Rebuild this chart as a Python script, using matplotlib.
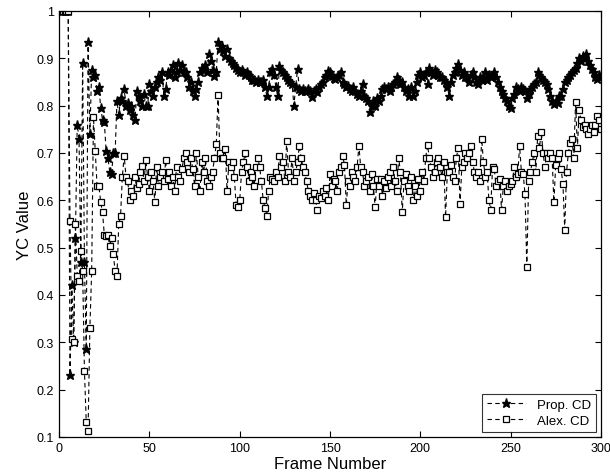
import matplotlib
matplotlib.use("Agg")

import numpy as np
import matplotlib.pyplot as plt

# ==========================================================
# DATA (one value per frame, frames 1..300)
# ==========================================================

prop_cd = [
    1.0, 1.0, 1.0, 1.0, 1.0, 0.23, 0.42, 0.30, 0.52, 0.76,
    0.73, 0.47, 0.89, 0.47, 0.285, 0.935, 0.74, 0.875, 0.86, 0.865,
    0.83, 0.84, 0.795, 0.77, 0.765, 0.705, 0.69, 0.66, 0.655, 0.70,
    0.70, 0.81, 0.78, 0.815, 0.81, 0.835, 0.80, 0.805, 0.79, 0.80,
    0.78, 0.77, 0.83, 0.82, 0.81, 0.80, 0.825, 0.80, 0.80, 0.845,
    0.83, 0.82, 0.84, 0.85, 0.86, 0.855, 0.87, 0.82, 0.835, 0.87,
    0.865, 0.875, 0.885, 0.86, 0.87, 0.89, 0.875, 0.885, 0.87, 0.87,
    0.86, 0.84, 0.85, 0.83, 0.82, 0.835, 0.85, 0.87, 0.88, 0.875,
    0.885, 0.87, 0.91, 0.895, 0.875, 0.863, 0.87, 0.934, 0.92, 0.925,
    0.915, 0.905, 0.92, 0.90, 0.895, 0.89, 0.885, 0.88, 0.875, 0.87,
    0.875, 0.87, 0.865, 0.87, 0.865, 0.86, 0.855, 0.855, 0.85, 0.855,
    0.85, 0.85, 0.855, 0.84, 0.82, 0.84, 0.87, 0.878, 0.865, 0.84,
    0.82, 0.884, 0.875, 0.87, 0.865, 0.86, 0.855, 0.85, 0.845, 0.80,
    0.84, 0.877, 0.835, 0.83, 0.835, 0.83, 0.83, 0.835, 0.83, 0.818,
    0.83, 0.835, 0.829, 0.84, 0.845, 0.85, 0.86, 0.865, 0.874, 0.87,
    0.862, 0.858, 0.856, 0.86, 0.865, 0.87, 0.85, 0.845, 0.84, 0.842,
    0.835, 0.83, 0.84, 0.83, 0.825, 0.82, 0.83, 0.846, 0.82, 0.815,
    0.81, 0.786, 0.80, 0.81, 0.80, 0.815, 0.81, 0.82, 0.835, 0.84,
    0.835, 0.84, 0.83, 0.84, 0.845, 0.85, 0.86, 0.855, 0.845, 0.85,
    0.84, 0.83, 0.835, 0.82, 0.84, 0.82, 0.83, 0.85, 0.865, 0.87,
    0.86, 0.865, 0.87, 0.846, 0.88, 0.87, 0.865, 0.875, 0.87, 0.865,
    0.86, 0.86, 0.855, 0.85, 0.84, 0.82, 0.85, 0.865, 0.87, 0.88,
    0.888, 0.875, 0.865, 0.87, 0.86, 0.86, 0.85, 0.865, 0.87, 0.86,
    0.85, 0.845, 0.86, 0.855, 0.86, 0.87, 0.855, 0.865, 0.86, 0.865,
    0.87, 0.86, 0.85, 0.84, 0.83, 0.825, 0.815, 0.81, 0.80, 0.795,
    0.815, 0.825, 0.84, 0.835, 0.83, 0.84, 0.835, 0.83, 0.815, 0.825,
    0.835, 0.84, 0.845, 0.85, 0.87, 0.865, 0.86, 0.855, 0.85, 0.845,
    0.835, 0.82, 0.81, 0.803, 0.81, 0.805, 0.82, 0.82, 0.835, 0.85,
    0.855, 0.86, 0.865, 0.87, 0.875, 0.88, 0.89, 0.90, 0.895, 0.905,
    0.90, 0.909, 0.895, 0.885, 0.877, 0.87, 0.86, 0.856, 0.865, 0.86,
]

alex_cd = [
    1.0, 1.0, 1.0, 1.0, 1.0, 0.556, 0.306, 0.30, 0.55, 0.44,
    0.43, 0.493, 0.45, 0.239, 0.131, 0.112, 0.33, 0.45, 0.776, 0.705,
    0.63, 0.63, 0.596, 0.575, 0.527, 0.525, 0.527, 0.504, 0.52, 0.486,
    0.45, 0.44, 0.55, 0.567, 0.65, 0.694, 0.65, 0.64, 0.60, 0.62,
    0.61, 0.65, 0.625, 0.634, 0.66, 0.673, 0.64, 0.684, 0.65, 0.62,
    0.66, 0.64, 0.596, 0.67, 0.63, 0.65, 0.66, 0.64, 0.684, 0.645,
    0.66, 0.63, 0.65, 0.62, 0.67, 0.65, 0.64, 0.665, 0.69, 0.70,
    0.68, 0.66, 0.69, 0.665, 0.63, 0.70, 0.65, 0.62, 0.68, 0.66,
    0.69, 0.64, 0.63, 0.65, 0.66, 0.69, 0.718, 0.822, 0.70, 0.69,
    0.69, 0.708, 0.62, 0.68, 0.67, 0.68, 0.65, 0.59, 0.585, 0.60,
    0.66, 0.68, 0.70, 0.67, 0.64, 0.66, 0.65, 0.63, 0.67, 0.69,
    0.67, 0.64, 0.60, 0.584, 0.567, 0.62, 0.65, 0.645, 0.64, 0.66,
    0.65, 0.694, 0.67, 0.68, 0.64, 0.725, 0.66, 0.65, 0.69, 0.64,
    0.66, 0.68, 0.715, 0.69, 0.67, 0.66, 0.64, 0.62, 0.61, 0.60,
    0.615, 0.60, 0.58, 0.61, 0.605, 0.62, 0.61, 0.625, 0.60, 0.655,
    0.63, 0.645, 0.64, 0.62, 0.66, 0.67, 0.694, 0.675, 0.59, 0.64,
    0.63, 0.66, 0.65, 0.64, 0.67, 0.715, 0.67, 0.66, 0.63, 0.64,
    0.65, 0.62, 0.655, 0.63, 0.585, 0.645, 0.63, 0.645, 0.61, 0.64,
    0.625, 0.65, 0.66, 0.63, 0.67, 0.64, 0.62, 0.69, 0.66, 0.575,
    0.64, 0.655, 0.63, 0.62, 0.65, 0.60, 0.63, 0.61, 0.645, 0.62,
    0.66, 0.64, 0.69, 0.717, 0.69, 0.67, 0.65, 0.66, 0.68, 0.69,
    0.67, 0.65, 0.68, 0.564, 0.66, 0.66, 0.675, 0.65, 0.64, 0.69,
    0.71, 0.592, 0.67, 0.68, 0.70, 0.69, 0.70, 0.715, 0.68, 0.66,
    0.65, 0.66, 0.64, 0.73, 0.68, 0.65, 0.66, 0.60, 0.58, 0.67,
    0.665, 0.63, 0.64, 0.645, 0.58, 0.63, 0.64, 0.62, 0.63, 0.635,
    0.64, 0.67, 0.65, 0.655, 0.715, 0.66, 0.655, 0.613, 0.459, 0.64,
    0.66, 0.68, 0.70, 0.66, 0.736, 0.71, 0.745, 0.70, 0.67, 0.70,
    0.69, 0.70, 0.69, 0.596, 0.675, 0.69, 0.70, 0.665, 0.635, 0.538,
    0.66, 0.70, 0.72, 0.73, 0.69, 0.807, 0.71, 0.79, 0.77, 0.755,
    0.76, 0.75, 0.74, 0.75, 0.76, 0.745, 0.76, 0.778, 0.77, 0.75,
]

frames = np.arange(1, len(prop_cd) + 1)

x_ticks = [0, 50, 100, 150, 200, 250, 300]
y_ticks = [0.1, 0.2, 0.3, 0.4, 0.5, 0.6, 0.7, 0.8, 0.9, 1.0]
y_tick_labels = ["0.1", "0.2", "0.3", "0.4", "0.5", "0.6", "0.7", "0.8", "0.9", "1"]

# ==========================================================
# FIGURE
# ==========================================================

plt.rcParams["font.family"] = ["Liberation Sans", "DejaVu Sans"]

fig = plt.figure(figsize=(6.1, 4.77), dpi=100, facecolor="white")
ax = fig.add_axes([0.097, 0.082, 0.888, 0.893])

ax.plot(
    frames, prop_cd,
    ls=(0, (4, 3)), lw=0.8, color="black",
    marker="*", ms=6.5, mfc="black", mec="black",
    label="Prop. CD",
)

ax.plot(
    frames, alex_cd,
    ls=(0, (4, 3)), lw=0.8, color="black",
    marker="s", ms=4.3, mfc="white", mec="black", mew=0.9,
    label="Alex. CD",
)

# ==========================================================
# AXES STYLE (matlab-like box with inward ticks)
# ==========================================================

ax.set_xlim(0, 300)
ax.set_ylim(0.1, 1.0)
ax.set_xticks(x_ticks)
ax.set_yticks(y_ticks)
ax.set_yticklabels(y_tick_labels)

ax.tick_params(
    direction="in", top=True, right=True,
    length=4, width=0.8, labelsize=9, pad=4
)

for sp in ax.spines.values():
    sp.set_linewidth(0.9)

ax.set_xlabel("Frame Number", fontsize=12, labelpad=1)
ax.set_ylabel("YC Value", fontsize=12, labelpad=3)

legend = ax.legend(
    loc="lower right",
    fontsize=9.5,
    frameon=True,
    fancybox=False,
    edgecolor="black",
    borderaxespad=0.4,
    handlelength=3.0,
    borderpad=0.35,
    labelspacing=0.3,
)
legend.get_frame().set_linewidth(0.8)

fig.savefig("out.png", dpi=100, facecolor="white")
plt.close()
